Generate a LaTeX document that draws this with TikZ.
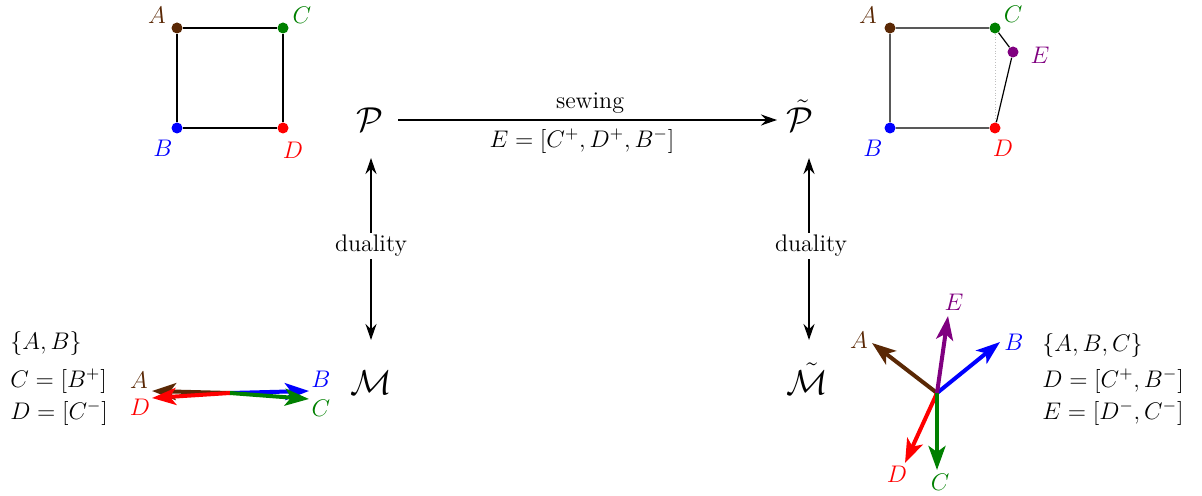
\documentclass[tikz,border=0pt]{standalone}
\usetikzlibrary{arrows.meta}
\definecolor{cbrown}{RGB}{90,40,5}
\definecolor{cgreen}{RGB}{0,128,0}
\definecolor{cpurple}{RGB}{128,0,128}
\definecolor{cred}{RGB}{255,0,0}
\definecolor{cblue}{RGB}{0,0,255}
\tikzset{
  dot/.style={circle,inner sep=0pt,minimum size=5.5pt},
  edge/.style={line width=0.6pt},
  vec/.style={line width=2pt,-{Stealth[length=12pt,width=8.5pt,inset=3pt]}},
  bigarr/.style={line width=0.9pt,-{Stealth[length=8pt,width=5.5pt]}},
  duarr/.style={line width=0.9pt,{Stealth[length=8pt,width=5.5pt]}-{Stealth[length=8pt,width=5.5pt]}},
  lab/.style={inner sep=1pt,font=\fontsize{12}{14}\selectfont},
  big/.style={inner sep=1pt,font=\fontsize{18.5}{22}\selectfont},
}
\begin{document}
\begin{tikzpicture}[x=0.5pt,y=-0.5pt]
\useasboundingbox (0,0) rectangle (1202,496);
% left square
\node[dot,fill=cbrown] (lA) at (177,28) {};
\node[dot,fill=cgreen] (lC) at (283,28) {};
\node[dot,fill=cblue] (lB) at (177,128) {};
\node[dot,fill=cred] (lD) at (283,128) {};
\draw[edge] (lA) -- (lC) -- (lD) -- (lB) -- (lA);
\node[lab,text=cbrown] (lAl) at (157,15) {$A$};
\node[lab,text=cgreen] (lCl) at (302,15) {$C$};
\node[lab,text=cblue] (lBl) at (163,148) {$B$};
\node[lab,text=cred] (lDl) at (293,150) {$D$};
% right square
\node[dot,fill=cbrown] (rA) at (890,28) {};
\node[dot,fill=cgreen] (rC) at (995,28) {};
\node[dot,fill=cpurple] (rE) at (1013,52) {};
\node[dot,fill=cblue] (rB) at (890,128) {};
\node[dot,fill=cred] (rD) at (995,128) {};
\draw[gray!50,densely dotted,line width=0.4pt] (rC) -- (rD);
\draw[edge] (rA) -- (rC) -- (rE) -- (rD) -- (rB) -- (rA);
\node[lab,text=cbrown] (rAl) at (868,15) {$A$};
\node[lab,text=cgreen] (rCl) at (1013,14) {$C$};
\node[lab,text=cpurple] (rEl) at (1040,55) {$E$};
\node[lab,text=cblue] (rBl) at (873,148) {$B$};
\node[lab,text=cred] (rDl) at (1003,148) {$D$};
% main nodes
\node[big] (P) at (370,120) {$\mathcal{P}$};
\node[big] (Pt) at (800,116) {$\tilde{\mathcal{P}}$};
\node[big] (M) at (371,383) {$\mathcal{M}$};
\node[big] (Mt) at (807,379) {$\tilde{\mathcal{M}}$};
\coordinate (s1) at (398,120);
\coordinate (s2) at (777,120);
\draw[bigarr] (s1) -- (s2);
\node[lab] (sew) at (590,103) {sewing};
\node[lab] (sewE) at (582,141) {$E=[C^+,D^+,B^-]$};
\coordinate (d1a) at (371,158);
\coordinate (d1b) at (371,340);
\draw[duarr] (d1a) -- (d1b);
\node[lab,fill=white] (du1) at (371,246) {duality};
\coordinate (d2a) at (809,158);
\coordinate (d2b) at (809,340);
\draw[duarr] (d2a) -- (d2b);
\node[lab,fill=white] (du2) at (811,246) {duality};
% bottom left
\node[lab,anchor=west] (t1) at (8,343) {$\{A,B\}$};
\node[lab,anchor=west] (t2) at (8,381) {$C=[B^+]$};
\node[lab,anchor=west] (t3) at (8,413) {$D=[C^-]$};
\coordinate (O1) at (230,393);
\coordinate (eA1) at (152,391);
\coordinate (eD1) at (152,398);
\coordinate (eB1) at (309,391);
\coordinate (eC1) at (309,399);
\draw[vec,cbrown] (O1) -- (eA1);
\draw[vec,cblue] (O1) -- (eB1);
\draw[vec,cred] (O1) -- (eD1);
\draw[vec,cgreen] (O1) -- (eC1);
\node[lab,text=cbrown] (bA1) at (139,380) {$A$};
\node[lab,text=cred] (bD1) at (140,407) {$D$};
\node[lab,text=cblue] (bB1) at (321,379) {$B$};
\node[lab,text=cgreen] (bC1) at (321,408) {$C$};
% bottom right
\coordinate (O2) at (937,393);
\coordinate (eA2) at (872,343);
\coordinate (eE2) at (948,316);
\coordinate (eB2) at (1000,342);
\coordinate (eD2) at (905,463);
\coordinate (eC2) at (937,470);
\draw[vec,cbrown] (O2) -- (eA2);
\draw[vec,cblue] (O2) -- (eB2);
\draw[vec,cred] (O2) -- (eD2);
\draw[vec,cgreen] (O2) -- (eC2);
\draw[vec,cpurple] (O2) -- (eE2);
\node[lab,text=cbrown] (bA2) at (859,340) {$A$};
\node[lab,text=cpurple] (bE2) at (954,302) {$E$};
\node[lab,text=cblue] (bB2) at (1014,342) {$B$};
\node[lab,text=cred] (bD2) at (897,474) {$D$};
\node[lab,text=cgreen] (bC2) at (940,482) {$C$};
\node[lab,anchor=west] (u1) at (1040,345) {$\{A,B,C\}$};
\node[lab,anchor=west] (u2) at (1040,381) {$D=[C^+,B^-]$};
\node[lab,anchor=west] (u3) at (1040,413) {$E=[D^-,C^-]$};
\end{tikzpicture}
\end{document}
